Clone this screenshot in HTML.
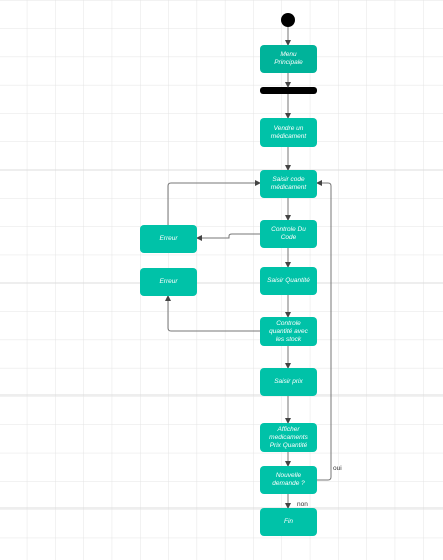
<!DOCTYPE html>
<html><head><meta charset="utf-8"><style>
html,body{margin:0;padding:0;background:#fff;}
body{width:443px;height:560px;overflow:hidden;position:relative;font-family:"Liberation Sans",sans-serif;}
.b{position:absolute;background:#00C2A8;border-radius:4px;color:#fff;font-style:italic;font-size:6.5px;line-height:8px;display:flex;align-items:center;justify-content:center;text-align:center;box-sizing:border-box;padding:0 8px;}
svg{position:absolute;left:0;top:0;}
</style></head><body>
<svg width="443" height="560">
<defs>
<pattern id="g" width="28.3" height="28.3" patternUnits="userSpaceOnUse" x="-1.5" y="0">
<path d="M0 0H28.3M0 0V28.3" stroke="#e4e4e4" stroke-width="1" fill="none"/>
</pattern>
<marker id="a" markerWidth="6" markerHeight="6" refX="5" refY="3" orient="auto" markerUnits="userSpaceOnUse"><path d="M0 0L6 3L0 6z" fill="#444"/></marker>
</defs>
<rect width="443" height="560" fill="url(#g)"/>
<g stroke="#dcdcdc" stroke-width="1"><line x1="0" y1="170" x2="443" y2="170"/><line x1="0" y1="283" x2="443" y2="283"/><line x1="0" y1="395" x2="443" y2="395"/><line x1="0" y1="508" x2="443" y2="508"/></g>
<circle cx="288" cy="20" r="7" fill="#000"/>
<rect x="260" y="87" width="57" height="7" rx="3" fill="#000"/>
<g stroke="#777" stroke-width="1" fill="none" marker-end="url(#a)">
<line x1="288" y1="27" x2="288" y2="45"/>
<line x1="288" y1="73" x2="288" y2="87"/>
<line x1="288" y1="94" x2="288" y2="118"/>
<line x1="288" y1="147" x2="288" y2="170"/>
<line x1="288" y1="198" x2="288" y2="220"/>
<line x1="288" y1="248" x2="288" y2="267"/>
<line x1="288" y1="295" x2="288" y2="317"/>
<line x1="288" y1="346" x2="288" y2="368"/>
<line x1="288" y1="396" x2="288" y2="423"/>
<line x1="288" y1="452" x2="288" y2="466"/>
<line x1="288" y1="494" x2="288" y2="508"/>
<path d="M168 225V186Q168 183 171 183H260"/>
<path d="M260 234H232Q229 234 229 236V238H197"/>
<path d="M260 331H171Q168 331 168 328V296"/>
<path d="M317 480H328Q331 480 331 477V186Q331 183 328 183H317"/>
</g>
<text x="333" y="470" font-size="6.5" fill="#333" font-family="Liberation Sans">oui</text>
<text x="297" y="506" font-size="6.5" fill="#333" font-family="Liberation Sans">non</text>
</svg>
<div class="b" style="left:260px;top:45px;width:57px;height:28px;background:#00B39A">Menu Principale</div>
<div class="b" style="left:260px;top:118px;width:57px;height:29px">Vendre un médicament</div>
<div class="b" style="left:260px;top:170px;width:57px;height:28px">Saisir code médicament</div>
<div class="b" style="left:260px;top:220px;width:57px;height:28px">Controle Du Code</div>
<div class="b" style="left:140px;top:225px;width:57px;height:28px">Erreur</div>
<div class="b" style="left:140px;top:268px;width:57px;height:28px">Erreur</div>
<div class="b" style="left:260px;top:267px;width:57px;height:28px;padding:0 2px">Saisir Quantité</div>
<div class="b" style="left:260px;top:317px;width:57px;height:29px;padding:0">Controle<br>quantité avec<br>les stock</div>
<div class="b" style="left:260px;top:368px;width:57px;height:28px">Saisir prix</div>
<div class="b" style="left:260px;top:423px;width:57px;height:29px">Afficher medicaments Prix Quantité</div>
<div class="b" style="left:260px;top:466px;width:57px;height:28px">Nouvelle demande ?</div>
<div class="b" style="left:260px;top:508px;width:57px;height:28px">Fin</div>
</body></html>
